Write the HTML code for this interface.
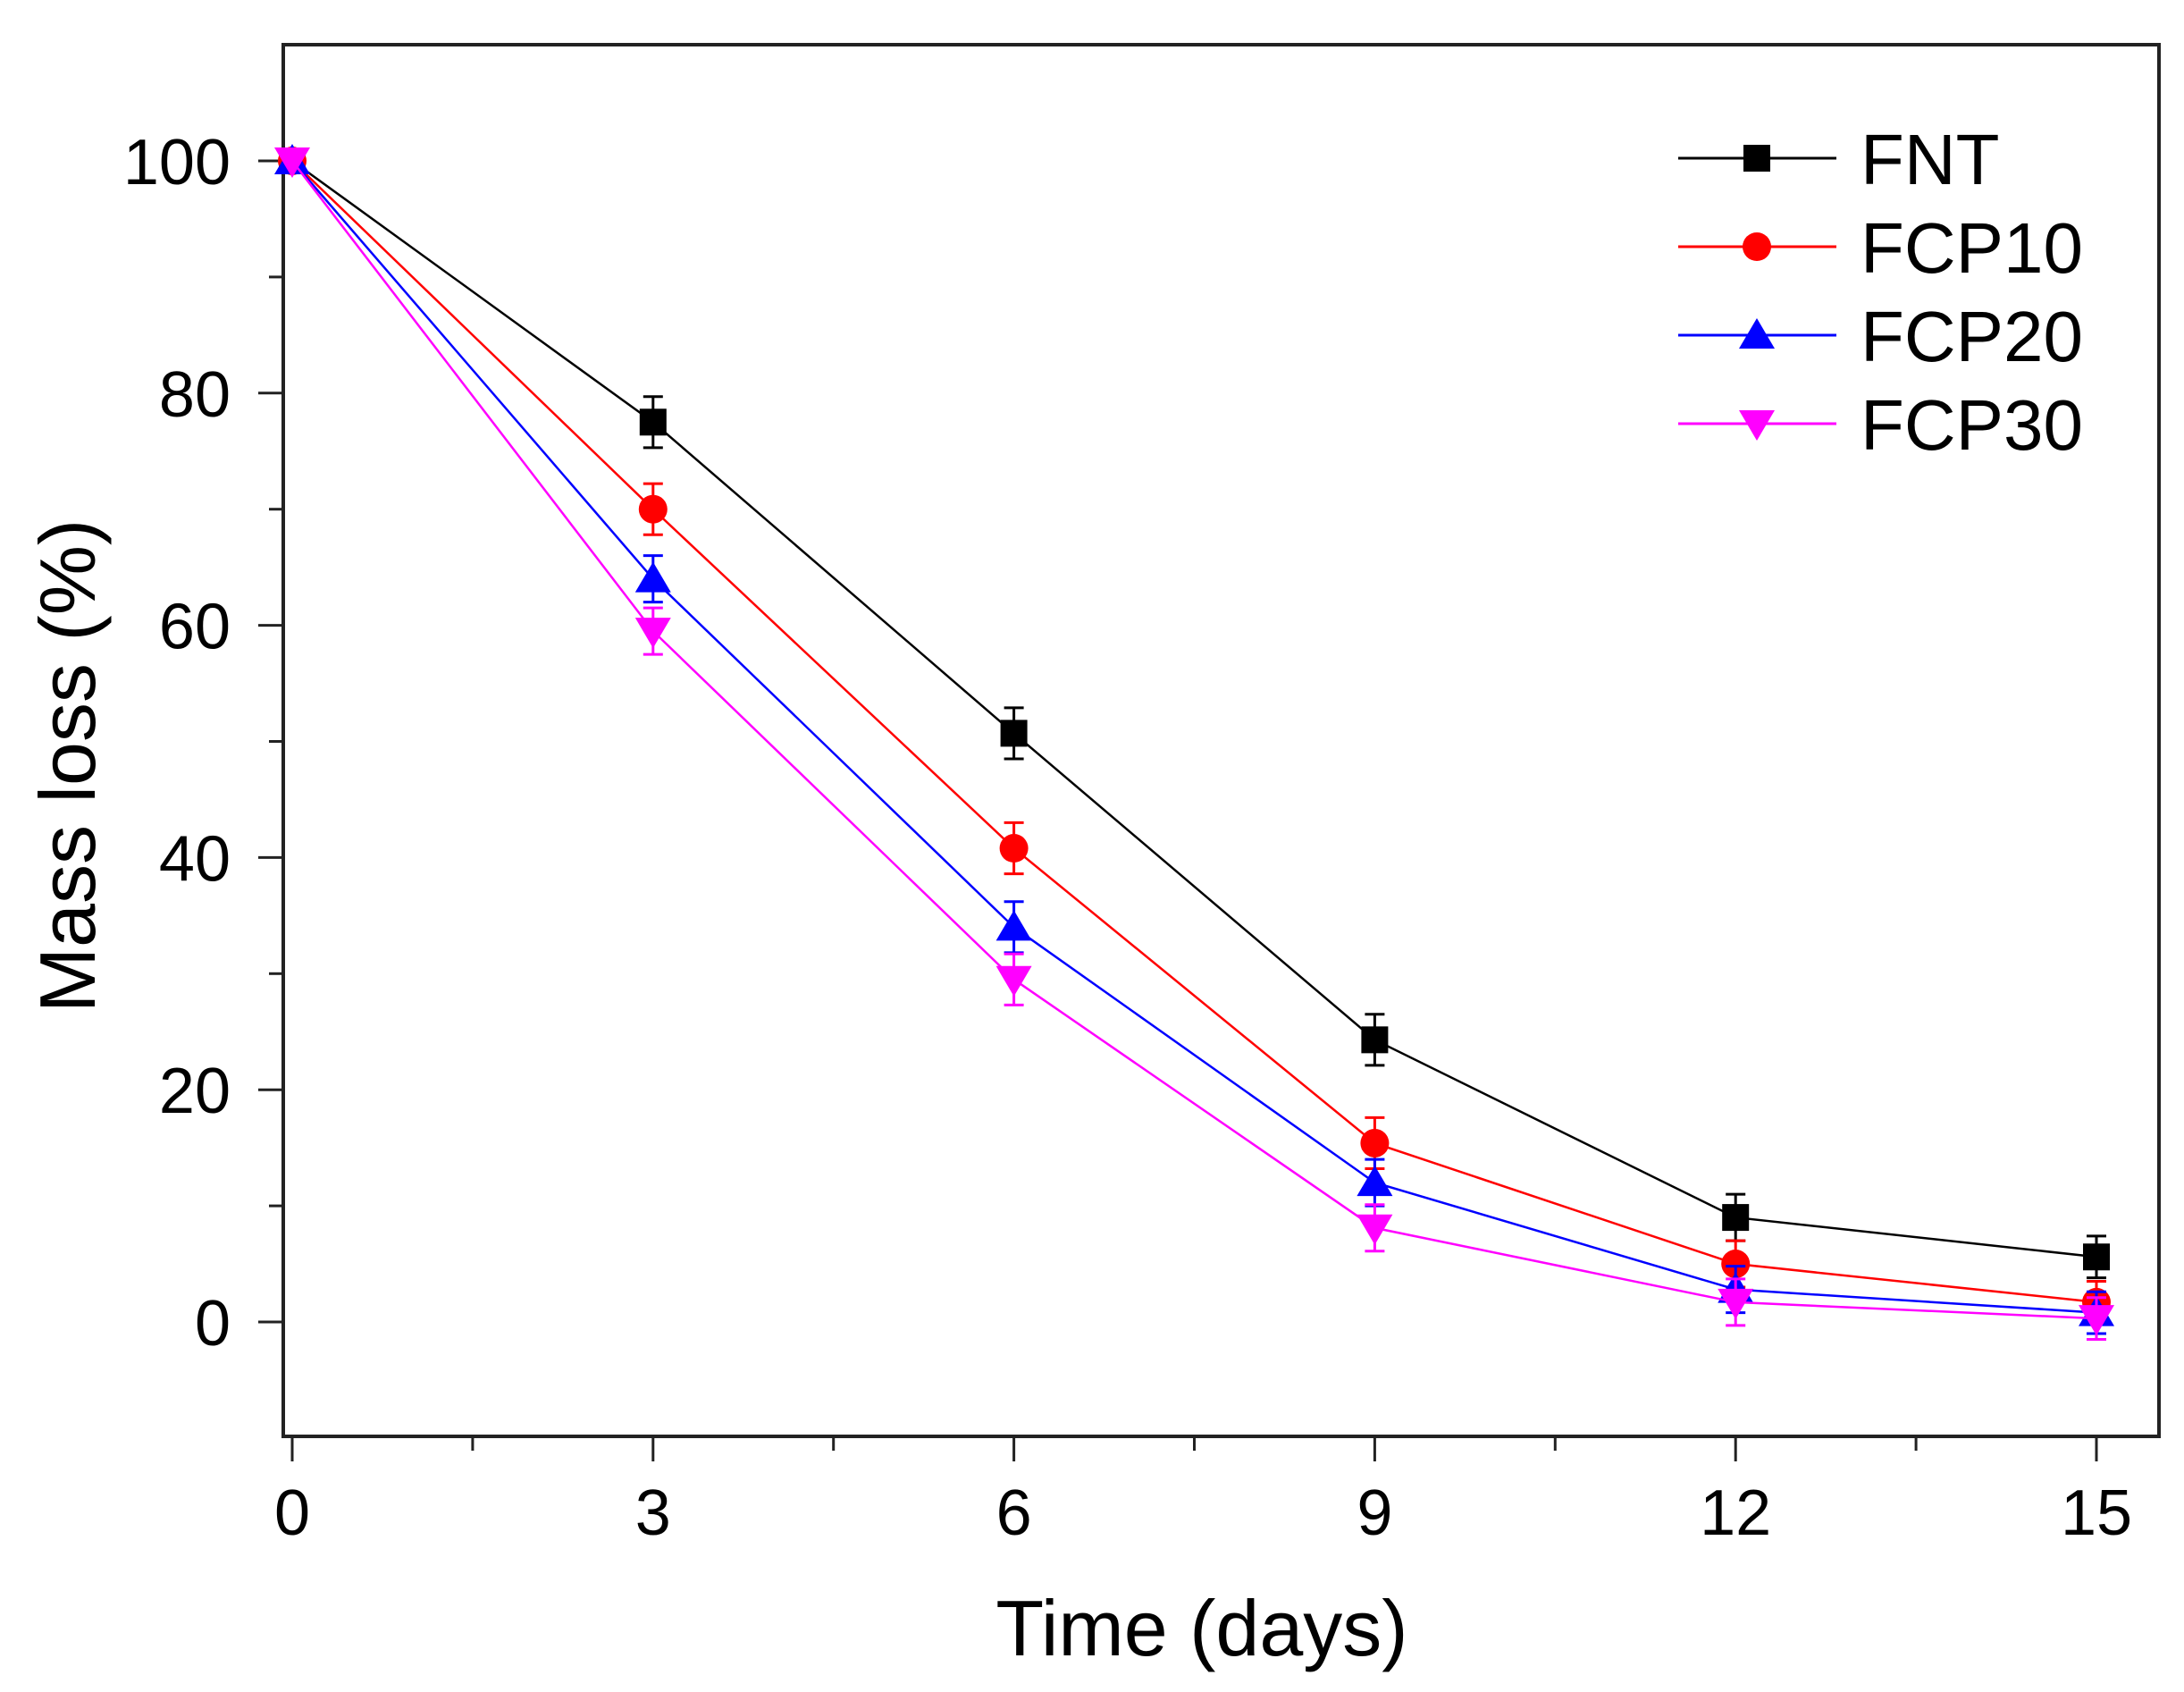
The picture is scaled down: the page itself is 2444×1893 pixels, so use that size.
<!DOCTYPE html>
<html><head><meta charset="utf-8"><style>
html,body{margin:0;padding:0;background:#fff;}
svg{display:block;}
text{font-family:"Liberation Sans",Arial,sans-serif;fill:#000;}
</style></head><body>
<svg id="chart" width="2444" height="1893" viewBox="0 0 2444 1893" xmlns="http://www.w3.org/2000/svg">
</svg>
<script>
const categories = [0, 3, 6, 9, 12, 15];
const seriesNames = ["FNT", "FCP10", "FCP20", "FCP30"];
const fntValues = [100, 77.5, 50.7, 24.3, 9.0, 5.6];
const fcp10Values = [100, 70.0, 40.8, 15.4, 5.0, 1.7];
const fcp20Values = [100, 64.0, 34.0, 12.0, 2.8, 0.8];
const fcp30Values = [100, 59.5, 29.5, 8.1, 1.7, 0.3];
const fntErr = [0, 2.2, 2.2, 2.2, 2.0, 1.8];
const fcp10Err = [0, 2.2, 2.2, 2.2, 2.0, 1.8];
const fcp20Err = [0, 2.0, 2.2, 2.0, 2.0, 1.8];
const fcp30Err = [0, 2.0, 2.2, 2.0, 2.0, 1.8];
const xTicks = [0, 3, 6, 9, 12, 15];
const yTicks = [0, 20, 40, 60, 80, 100];

const NS = "http://www.w3.org/2000/svg";
const svg = document.getElementById("chart");
const L = 317, R = 2416, T = 50, B = 1607;
const X = v => 327 + v * (2346 - 327) / 15;
const Y = v => 1479 - v * (1479 - 180) / 100;
function mk(tag, attrs, parent) {
  const e = document.createElementNS(NS, tag);
  for (const k in attrs) e.setAttribute(k, attrs[k]);
  (parent || svg).appendChild(e);
  return e;
}
const frame = mk("rect", {x: L, y: T, width: R - L, height: B - T, fill: "none", stroke: "#222", "stroke-width": 4});


for (let v = 0; v <= 15.01; v += 1.5) {
  const major = Math.abs(v % 3) < 0.01;
  const t = mk("line", {x1: X(v), x2: X(v), y1: B, y2: B + (major ? 28 : 16), stroke: "#222", "stroke-width": 3});
  
  
}
xTicks.forEach(v => {
  const t = mk("text", {x: X(v), y: 1717, "font-size": 72, "text-anchor": "middle"});
  t.textContent = v;
  
  
});
for (let v = 0; v <= 100; v += 10) {
  const major = v % 20 === 0;
  const t = mk("line", {x1: L - (major ? 28 : 16), x2: L, y1: Y(v), y2: Y(v), stroke: "#222", "stroke-width": 3});
  
  
}
yTicks.forEach(v => {
  const t = mk("text", {x: 258, y: Y(v) + 26, "font-size": 72, "text-anchor": "end"});
  t.textContent = v;
  
  
});
const xt = mk("text", {x: 1345, y: 1852, "font-size": 88, "text-anchor": "middle"});
xt.textContent = "Time (days)";


const yt = mk("text", {x: 0, y: 0, "font-size": 88, "text-anchor": "middle", transform: "translate(106,857) rotate(-90)"});
yt.textContent = "Mass loss (%)";



const colors = ["#000000", "#ff0000", "#0000ff", "#ff00ff"];
const allVals = [fntValues, fcp10Values, fcp20Values, fcp30Values];
const allErr = [fntErr, fcp10Err, fcp20Err, fcp30Err];
function marker(i, cx, cy, parent) {
  const c = colors[i]; let m;
  if (i === 0) m = mk("rect", {x: cx - 15, y: cy - 15, width: 30, height: 30, fill: c}, parent);
  else if (i === 1) m = mk("circle", {cx: cx, cy: cy, r: 16, fill: c}, parent);
  else if (i === 2) m = mk("polygon", {points: `${cx},${cy-19} ${cx+20},${cy+15} ${cx-20},${cy+15}`, fill: c}, parent);
  else m = mk("polygon", {points: `${cx},${cy+19} ${cx+20},${cy-15} ${cx-20},${cy-15}`, fill: c}, parent);
  return m;
}
allVals.forEach((vals, i) => {
  const g = mk("g", {});
  
  
  const pts = vals.map((v, j) => X(categories[j]) + "," + Y(v)).join(" ");
  const pl = mk("polyline", {points: pts, fill: "none", stroke: colors[i], "stroke-width": 2.5}, g);
  
  
  vals.forEach((v, j) => {
    const e = allErr[i][j];
    if (e > 0) {
      const cx = X(categories[j]);
      const eb = mk("path", {d: `M${cx},${Y(v+e)}V${Y(v-e)}M${cx-11},${Y(v+e)}H${cx+11}M${cx-11},${Y(v-e)}H${cx+11}`, stroke: colors[i], "stroke-width": 3, fill: "none"}, g);
      
      
    }
    const m = marker(i, X(categories[j]), Y(v), g);
    
    
  });
});
const lg = mk("g", {});


seriesNames.forEach((n, i) => {
  const y = 177 + i * 99;
  const ln = mk("line", {x1: 1878, x2: 2055, y1: y, y2: y, stroke: colors[i], "stroke-width": 3}, lg);
  
  
  const m = marker(i, 1966, y, lg);
  
  
  const t = mk("text", {x: 2082, y: y + 29, "font-size": 80}, lg);
  t.textContent = n;
  
  
});
</script>
</body></html>
